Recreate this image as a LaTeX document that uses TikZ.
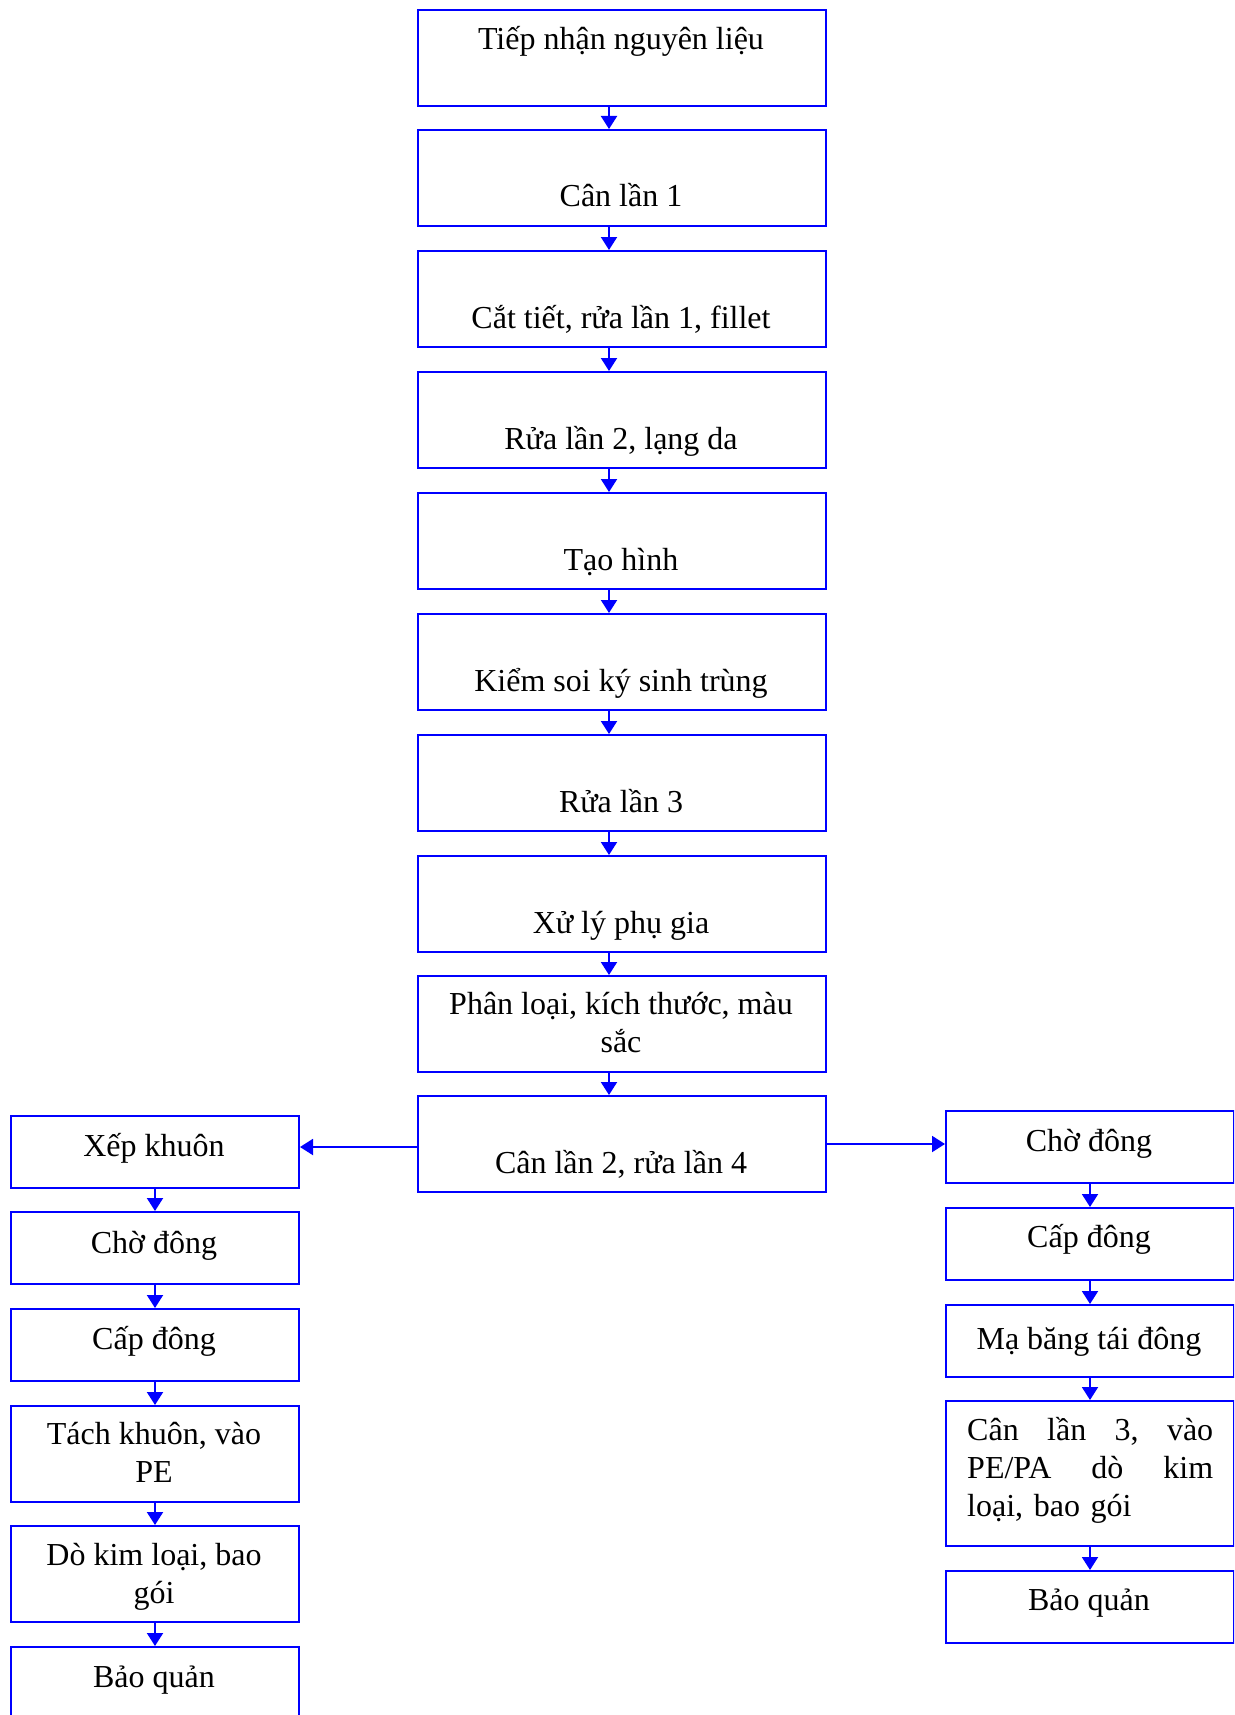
\documentclass[tikz,border=0pt]{standalone}
\usepackage{fontspec}
\setmainfont{Liberation Serif}
\usetikzlibrary{arrows.meta}
\begin{document}
\begin{tikzpicture}[x=1pt,y=-1pt,
 box/.style={draw=blue, line width=2pt, inner sep=0pt, anchor=north west},
 mbox/.style={box, minimum width=408pt, minimum height=96pt},
 sbox/.style={box, minimum width=288pt, minimum height=72pt},
 tbox/.style={box, minimum width=288pt, minimum height=96pt},
 txt/.style={font=\fontsize{32}{38}\selectfont, inner sep=0pt, anchor=base, align=center},
 arr/.style={draw=blue, line width=2pt, -{Triangle[length=13pt,width=16pt]}}]
\useasboundingbox (0,0) rectangle (1234,1715);
\clip (0,0) rectangle (1234,1715);
% main column
\node[mbox] (m1) at (417,9) {};
\node[mbox] (m2) at (417,129) {};
\node[mbox] (m3) at (417,250) {};
\node[mbox] (m4) at (417,371) {};
\node[mbox] (m5) at (417,492) {};
\node[mbox] (m6) at (417,613) {};
\node[mbox] (m7) at (417,734) {};
\node[mbox] (m8) at (417,855) {};
\node[mbox] (m9) at (417,975) {};
\node[mbox] (m10) at (417,1095) {};
\node[txt] (tm1) at (621,50) {Tiếp nhận nguyên liệu};
\node[txt] (tm2) at (621,207) {Cân lần 1};
\node[txt] (tm3) at (621,328) {Cắt tiết, rửa lần 1, fillet};
\node[txt] (tm4) at (621,449) {Rửa lần 2, lạng da};
\node[txt] (tm5) at (621,570) {Tạo hình};
\node[txt] (tm6) at (621,691) {Kiểm soi ký sinh trùng};
\node[txt] (tm7) at (621,812) {Rửa lần 3};
\node[txt] (tm8) at (621,933) {Xử lý phụ gia};
\node[txt] (tm9) at (621,1052) {Phân loại, kích thước, màu\\sắc};
\node[txt] (tm10) at (621,1173) {Cân lần 2, rửa lần 4};
\foreach \a/\b in {m1/m2,m2/m3,m3/m4,m4/m5,m5/m6,m6/m7,m7/m8,m8/m9,m9/m10}
  \draw[arr] ([xshift=-13pt]\a.south) -- ([xshift=-13pt]\b.north);
% left column
\node[sbox] (l1) at (10,1115) {};
\node[sbox] (l2) at (10,1211) {};
\node[sbox] (l3) at (10,1308) {};
\node[tbox] (l4) at (10,1405) {};
\node[tbox] (l5) at (10,1525) {};
\node[box, minimum width=288pt, minimum height=110pt] (l6) at (10,1646) {};
\node[txt] (tl1) at (154,1156) {Xếp khuôn};
\node[txt] (tl2) at (154,1253) {Chờ đông};
\node[txt] (tl3) at (154,1349) {Cấp đông};
\node[txt] (tl4) at (154,1482) {Tách khuôn, vào\\PE};
\node[txt] (tl5) at (154,1603) {Dò kim loại, bao\\gói};
\node[txt] (tl6) at (154,1687) {Bảo quản};
\foreach \a/\b in {l1/l2,l2/l3,l3/l4,l4/l5,l5/l6}
  \draw[arr] (\a.south) -- (\b.north);
% right column
\node[sbox] (r1) at (945,1110) {};
\node[sbox] (r2) at (945,1207) {};
\node[sbox] (r3) at (945,1304) {};
\node[box, minimum width=288pt, minimum height=145pt] (r4) at (945,1400) {};
\node[sbox] (r5) at (945,1570) {};
\node[txt] (tr1) at (1089,1151) {Chờ đông};
\node[txt] (tr2) at (1089,1247) {Cấp đông};
\node[txt] (tr3) at (1089,1349) {Mạ băng tái đông};
\node[txt, anchor=base west, align=left, text width=246pt] (tr4) at (967,1440)
  {\makebox[246pt][l]{Cân\hfill lần\hfill 3,\hfill vào}\\\makebox[246pt][l]{PE/PA\hfill dò\hfill kim}\\loại, bao gói};
\node[txt] (tr5) at (1089,1610) {Bảo quản};
\foreach \a/\b in {r1/r2,r2/r3,r3/r4,r4/r5}
  \draw[arr] (\a.south) -- (\b.north);
% horizontal arrows
\draw[arr] ([yshift=-3pt]m10.west) -- ([yshift=-3pt]m10.west -| l1.east);
\draw[arr] (m10.east) -- (m10.east -| r1.west);
\end{tikzpicture}
\end{document}
